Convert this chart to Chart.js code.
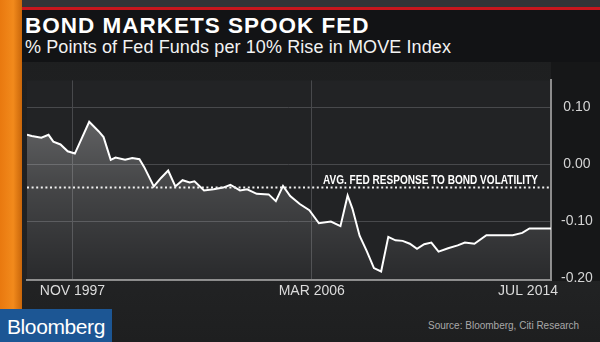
<!DOCTYPE html>
<html>
<head>
<meta charset="utf-8">
<script src="https://cdn.jsdelivr.net/npm/chart.js@4.4.1/dist/chart.umd.min.js"></script>
<style>
  body { margin: 0; width: 600px; height: 342px; overflow: hidden; position: relative;
         background: linear-gradient(180deg, #1d1e1f 0%, #222324 80%, #1e1f20 100%);
         font-family: Arial, "Liberation Sans", sans-serif; }
  #topbar { position: absolute; left: 0; top: 0; width: 600px; height: 8px; background: #333437; }
  #orange { position: absolute; left: 0; top: 0; width: 22px; height: 309px;
            background: linear-gradient(90deg, #e9790f 0%, #f28a1c 60%, #c9660a 100%); }
  #red { position: absolute; left: 22px; top: 7px; width: 578px; height: 3px; background: #c8161d; }
  #band { position: absolute; left: 22px; top: 10px; width: 578px; height: 52px; background: #121315; }
  #title { position: absolute; left: 25px; top: 15px; color: #fff; font-weight: bold; font-size: 22.5px;
           line-height: 1; letter-spacing: 1px; white-space: nowrap; }
  #subtitle { position: absolute; left: 25px; top: 38px; color: #f2f2f2; font-size: 18px; line-height: 1;
              letter-spacing: 0.1px; white-space: nowrap; }
  #wrap { position: absolute; left: 22px; top: 62px; width: 578px; height: 240px; }
  #logo { position: absolute; left: 0; top: 309px; width: 112px; height: 33px; background: #1c5694; }
  #logo span { position: absolute; left: 7px; top: 7px; color: #fff; font-size: 21px; line-height: 1;
               letter-spacing: -0.4px; }
  #source { position: absolute; left: 428px; top: 321px; color: #a9a9a9; font-size: 10px; line-height: 1;
            white-space: nowrap; }
</style>
</head>
<body>
<div id="topbar"></div>
<div id="orange"></div>
<div id="red"></div>
<div id="band"></div>
<div id="title">BOND MARKETS SPOOK FED</div>
<div id="subtitle">% Points of Fed Funds per 10% Rise in MOVE Index</div>
<div id="wrap"><canvas id="chart"></canvas></div>
<div id="logo"><span>Bloomberg</span></div>
<div id="source">Source: Bloomberg, Citi Research</div>

<script>
// Fed response (% pts of Fed Funds per 10% rise in MOVE)
const dates = [
    '1996-04', '1996-06', '1996-10', '1997-01', '1997-03', '1997-06', '1997-09', '1997-12',
    '1998-06', '1998-10', '1998-12', '1999-03', '1999-05', '1999-09', '1999-12',
    '2000-03', '2000-05', '2000-09', '2000-12', '2001-03', '2001-06', '2001-09', '2001-12',
    '2002-02', '2002-06', '2002-10', '2003-02', '2003-05', '2003-09', '2003-12',
    '2004-04', '2004-09', '2004-12', '2005-03', '2005-06', '2005-10', '2006-02',
    '2006-06', '2006-11', '2007-03', '2007-06', '2007-08', '2007-11',
    '2008-02', '2008-05', '2008-08', '2008-11', '2009-02', '2009-05', '2009-08', '2009-11',
    '2010-02', '2010-05', '2010-08', '2010-12', '2011-04', '2011-07', '2011-11',
    '2012-04', '2013-03', '2013-07', '2013-10', '2014-07'
];
const response = [
    0.052, 0.050, 0.047, 0.052, 0.040, 0.035, 0.023, 0.019,
    0.075, 0.058, 0.048, 0.008, 0.012, 0.008, 0.011,
    0.009, -0.005, -0.039, -0.024, -0.011, -0.039, -0.028, -0.032,
    -0.030, -0.046, -0.044, -0.041, -0.036, -0.046, -0.044,
    -0.052, -0.053, -0.065, -0.038, -0.056, -0.070, -0.081,
    -0.104, -0.101, -0.109, -0.055, -0.078, -0.126,
    -0.153, -0.183, -0.189, -0.128, -0.134, -0.135, -0.140, -0.149,
    -0.141, -0.138, -0.154, -0.148, -0.143, -0.138, -0.140,
    -0.125, -0.125, -0.121, -0.113, -0.113
];
const avgResponse = -0.040;
const avgLabel = 'AVG. FED RESPONSE TO BOND VOLATILITY';

const xTickDates = ['1997-11', '2006-03', '2014-07'];
const xTickLabels = ['NOV 1997', 'MAR 2006', 'JUL 2014'];
const yTickValues = [0.10, 0.00, -0.10, -0.20];
const xStart = '1996-04';
const xEnd = '2014-07';
const yMin = -0.204;
const yMax = 0.148;

// months since Jan 1996
const toMonth = (s) => {
    const [y, m] = s.split('-').map(Number);
    return (y - 1996) * 12 + (m - 1);
};

const points = dates.map((d, i) => ({ x: toMonth(d), y: response[i] }));

// plot background, avg line and bottom labels
const decorations = {
    id: 'decorations',
    beforeDraw(chart) {
        const { ctx, chartArea: a, width } = chart;
        ctx.save();
        ctx.fillStyle = '#161718';
        ctx.fillRect(a.right, 0, width - a.right, a.bottom + 1);
        ctx.fillStyle = '#222325';
        ctx.fillRect(a.left, a.top, a.right - a.left, a.bottom - a.top);
        ctx.restore();
    },
    afterDatasetsDraw(chart) {
        const { ctx, chartArea: a } = chart;
        const y = Math.round(chart.scales.y.getPixelForValue(avgResponse)) + 0.5;
        ctx.save();
        ctx.strokeStyle = '#f0f0f0';
        ctx.lineWidth = 2;
        ctx.setLineDash([2, 2.6]);
        ctx.beginPath();
        ctx.moveTo(a.left, y);
        ctx.lineTo(a.right, y);
        ctx.stroke();
        ctx.setLineDash([]);

        // condensed bold label, squeezed to the width it has in the original
        ctx.fillStyle = '#ffffff';
        ctx.font = 'bold 12.5px Arial, "Liberation Sans", sans-serif';
        ctx.textAlign = 'right';
        ctx.textBaseline = 'alphabetic';
        const squeeze = 215 / ctx.measureText(avgLabel).width;
        ctx.save();
        ctx.translate(a.right - 13, y - 3.5);
        ctx.scale(squeeze, 1);
        ctx.fillText(avgLabel, 0, 0);
        ctx.restore();

        // x labels, the last one tucked in against the right axis
        const xs = chart.scales.x;
        ctx.font = '14px Arial, "Liberation Sans", sans-serif';
        ctx.fillStyle = '#dcdcdc';
        ctx.textBaseline = 'middle';
        xTickDates.forEach((d, i) => {
            const px = xs.getPixelForValue(toMonth(d));
            const last = i === xTickDates.length - 1;
            ctx.textAlign = last ? 'right' : 'center';
            ctx.fillText(xTickLabels[i], last ? px + 7 : px, a.bottom + 11);
        });
        ctx.restore();
    }
};

new Chart(document.getElementById('chart'), {
    type: 'line',
    data: {
        datasets: [{
            data: points,
            borderColor: '#ffffff',
            borderWidth: 2,
            pointRadius: 0,
            tension: 0,
            fill: 'start',
            backgroundColor: (context) => {
                const area = context.chart.chartArea;
                if (!area) return 'rgba(255,255,255,0.15)';
                const g = context.chart.ctx.createLinearGradient(0, area.top, 0, area.bottom);
                g.addColorStop(0, 'rgba(255,255,255,0.36)');
                g.addColorStop(0.5, 'rgba(255,255,255,0.17)');
                g.addColorStop(1, 'rgba(255,255,255,0.03)');
                return g;
            }
        }]
    },
    options: {
        responsive: true,
        maintainAspectRatio: false,
        animation: false,
        layout: { padding: { left: 5, top: 0, right: 0, bottom: 0 } },
        plugins: { legend: { display: false }, tooltip: { enabled: false } },
        scales: {
            x: {
                type: 'linear',
                min: toMonth(xStart),
                max: toMonth(xEnd),
                afterBuildTicks: (scale) => {
                    scale.ticks = xTickDates.map(d => ({ value: toMonth(d) }));
                },
                afterFit: (scale) => { scale.height = 22; },
                ticks: { display: false },
                grid: { color: '#48494c', lineWidth: 1, drawTicks: false },
                border: { color: '#8c8c8c', width: 2 }
            },
            y: {
                position: 'right',
                min: yMin,
                max: yMax,
                afterBuildTicks: (scale) => {
                    scale.ticks = yTickValues.map(v => ({ value: v }));
                },
                afterFit: (scale) => { scale.width = 49; },
                ticks: {
                    color: '#d4d4d4',
                    font: { family: 'Arial, "Liberation Sans", sans-serif', size: 14 },
                    padding: 10,
                    crossAlign: 'center',
                    callback: (v) => v.toFixed(2)
                },
                grid: {
                    color: (c) => (c.tick && c.tick.value === -0.20) ? 'rgba(0,0,0,0)' : '#48494c',
                    lineWidth: 1,
                    drawTicks: false
                },
                border: { color: '#8c8c8c', width: 2 }
            }
        }
    },
    plugins: [decorations]
});
</script>
</body>
</html>
